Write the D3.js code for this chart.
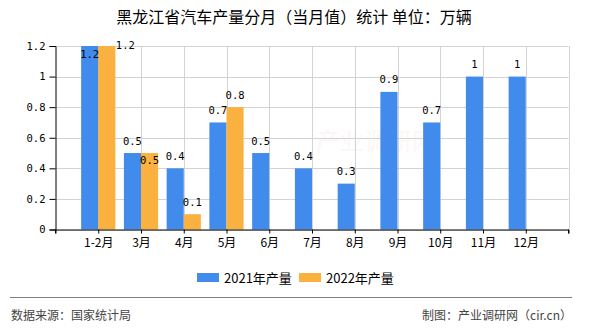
<!DOCTYPE html>
<html><head><meta charset="utf-8">
<script src="https://cdn.jsdelivr.net/npm/d3@7"></script>
<style>
html,body{margin:0;padding:0;background:#fff;}
svg{display:block;}
</style></head>
<body>
<svg id="c" width="590" height="330"></svg>
<script>
const title = "黑龙江省汽车产量分月（当月值）统计 单位：万辆";
const categories = ["1-2月","3月","4月","5月","6月","7月","8月","9月","10月","11月","12月"];
const series2021 = [1.2,0.5,0.4,0.7,0.5,0.4,0.3,0.9,0.7,1,1];
const series2022 = [1.2,0.5,0.1,0.8,null,null,null,null,null,null,null];
const seriesNames = ["2021年产量","2022年产量"];
const yTicks = [0,0.2,0.4,0.6,0.8,1,1.2];
const colors = ["#418bec","#fbb13f"];
const sourceText = "数据来源：国家统计局";
const creditText = "制图：产业调研网（cir.cn）";

const svg = d3.select("#c");
const L = 55.5, R = 568.5, T = 46, B = 229.5;
const cjk = "'Noto Sans CJK SC','Noto Sans',sans-serif";
const mono = "'DejaVu Sans Mono','Liberation Mono',monospace";

const x = d3.scalePoint().domain(["__s", ...categories, "__e"]).range([L, R]);
const y = d3.scaleLinear().domain([0, 1.2]).range([B, T]);
const bw = x.step() * 0.4;

// watermark
svg.append("text").attr("x", 376).attr("y", 150).attr("text-anchor","middle")
  .attr("font-family", cjk).attr("font-size", 24).attr("fill", "#e8b0b0").attr("opacity", 0.1)
  .text("产业调研网");

// horizontal gridlines
svg.append("g").selectAll("line").data(yTicks).join("line")
  .attr("x1", L).attr("x2", R)
  .attr("y1", d => Math.round(y(d)) + 0.5).attr("y2", d => Math.round(y(d)) + 0.5)
  .attr("stroke", "#d3d3d3").attr("stroke-width", 1);
// vertical gridlines
svg.append("g").selectAll("line").data([...categories, "__e"]).join("line")
  .attr("x1", d => Math.round(x(d)) + 0.5).attr("x2", d => Math.round(x(d)) + 0.5)
  .attr("y1", T).attr("y2", B)
  .attr("stroke", "#d3d3d3").attr("stroke-width", 1);

// bars
const g = svg.append("g");
categories.forEach((c, i) => {
  const v1 = series2021[i], v2 = series2022[i];
  if (v1 != null) g.append("rect").attr("x", x(c) - bw).attr("y", y(v1)).attr("width", bw).attr("height", y(0) - y(v1)).attr("fill", colors[0]);
  if (v2 != null) g.append("rect").attr("x", x(c)).attr("y", y(v2)).attr("width", bw).attr("height", y(0) - y(v2)).attr("fill", colors[1]);
});

// axes
const yAxis = d3.axisLeft(y).tickValues(yTicks).tickSize(6).tickPadding(4).tickFormat(d => String(d));
const ya = svg.append("g").attr("transform", `translate(${L},0)`).call(yAxis);
ya.selectAll("text").attr("font-family", mono).attr("font-size", 10.5).attr("fill", "#000");
ya.select(".domain").attr("stroke", "#000");
ya.selectAll(".tick line").attr("stroke", "#000");

const xAxis = d3.axisBottom(x).tickValues([...categories]).tickSize(4).tickPadding(5);
const xa = svg.append("g").attr("transform", `translate(0,${B})`).call(xAxis);
xa.selectAll("text").attr("font-family", cjk).attr("font-size", 12).attr("fill", "#000");
xa.select(".domain").attr("stroke", "#000");
xa.selectAll(".tick line").attr("stroke", "#000");
// end ticks
xa.append("g").selectAll("line").data(["__s","__e"]).join("line")
  .attr("x1", d => x(d)).attr("x2", d => x(d)).attr("y1", 0).attr("y2", 4).attr("stroke", "#000");

// data labels
const lg = svg.append("g").attr("font-family", mono).attr("font-size", 10.5).attr("fill", "#000");
categories.forEach((c, i) => {
  const v1 = series2021[i], v2 = series2022[i];
  let blueInside = false;
  if (v1 != null) {
    const top = y(v1);
    let by = top - 8.5;
    if (top - 17 < T) { by = top + 12; blueInside = true; }
    lg.append("text").attr("x", x(c) - bw / 2).attr("y", by).attr("text-anchor", "middle").text(String(v1));
  }
  if (v2 != null) {
    const top = y(v2);
    let tx = x(c) + bw / 2, ty = top - 8.5, anchor = "middle";
    if (v1 != null && v1 === v2) {
      if (blueInside) { tx = x(c) + bw + 0.5; ty = top + 3; anchor = "start"; }
      else { ty = top + 11; }
    }
    lg.append("text").attr("x", tx).attr("y", ty).attr("text-anchor", anchor).text(String(v2));
  }
});

// title
svg.append("text").attr("x", 294).attr("y", 23).attr("text-anchor", "middle")
  .attr("font-family", cjk).attr("font-size", 16).attr("fill", "#000").text(title);

// legend
const legX = [197, 299];
seriesNames.forEach((n, i) => {
  svg.append("rect").attr("x", legX[i]).attr("y", 273).attr("width", 22).attr("height", 9).attr("fill", colors[i]);
  svg.append("text").attr("x", legX[i] + 27).attr("y", 282.5).attr("font-family", cjk).attr("font-size", 13).attr("fill", "#000").text(n);
});

// footer
svg.append("line").attr("x1", 10).attr("x2", 572).attr("y1", 297.5).attr("y2", 297.5).attr("stroke", "#808080").attr("stroke-width", 1.2);
svg.append("text").attr("x", 11).attr("y", 320).attr("font-family", cjk).attr("font-size", 12).attr("fill", "#444").text(sourceText);
svg.append("text").attr("x", 572).attr("y", 320).attr("text-anchor", "end").attr("font-family", cjk).attr("font-size", 12).attr("fill", "#444").text(creditText);
</script>
</body></html>
